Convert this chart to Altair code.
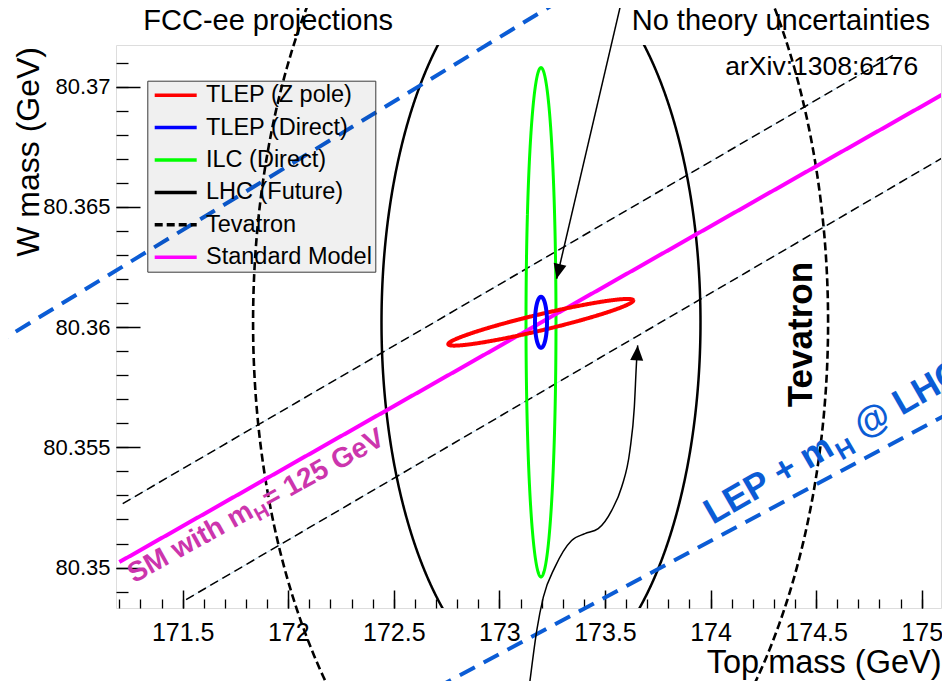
import numpy as np
import pandas as pd
import altair as alt

FONT = "Liberation Sans"

# ---------------- axes ----------------
X_DOMAIN = [171.1841, 175.0915]
Y_DOMAIN = [80.34832, 80.37173]
X_MAJOR = [171.5, 172.0, 172.5, 173.0, 173.5, 174.0, 174.5, 175.0]
X_MINOR = [171.2, 171.3, 171.4, 171.5, 171.6, 171.7, 171.8, 171.9, 172.0, 172.1,
           172.2, 172.3, 172.4, 172.5, 172.6, 172.7, 172.8, 172.9, 173.0, 173.1,
           173.2, 173.3, 173.4, 173.5, 173.6, 173.7, 173.8, 173.9, 174.0, 174.1,
           174.2, 174.3, 174.4, 174.5, 174.6, 174.7, 174.8, 174.9, 175.0]
Y_MAJOR = [80.35, 80.355, 80.36, 80.365, 80.37]
Y_MINOR = [80.349, 80.350, 80.351, 80.352, 80.353, 80.354, 80.355, 80.356, 80.357,
           80.358, 80.359, 80.360, 80.361, 80.362, 80.363, 80.364, 80.365, 80.366,
           80.367, 80.368, 80.369, 80.370, 80.371]

# ---------------- legend series ----------------
SERIES = ["TLEP (Z pole)", "TLEP (Direct)", "ILC (Direct)", "LHC (Future)", "Tevatron", "Standard Model"]
COLORS = ["#ff0000", "#0000ff", "#00ff00", "#000000", "#000000", "#ff00ff"]
DASHES = [[1, 0], [1, 0], [1, 0], [1, 0], [8, 4], [1, 0]]

# ---------------- contours (centre, semi-axis vectors) ----------------
ELL_NAMES = ["TLEP (Z pole)", "TLEP (Direct)", "ILC (Direct)", "LHC (Future)", "Tevatron"]
ELL_CX = [173.196, 173.197, 173.197, 173.197, 173.195]
ELL_CY = [80.3602, 80.3602, 80.3602, 80.3602, 80.3602]
ELL_AX = [0.4381, 0.0284, 0.0710, 0.7554, 1.3617]
ELL_AY = [0.000915, 0.0, 0.0, 0.0, 0.0]
ELL_BX = [-0.00876, 0.0, 0.0, 0.0, 0.0]
ELL_BY = [0.000324, 0.00106, 0.01059, 0.01511, 0.02250]
ELL_WIDTH = [4, 4, 3, 2.5, 2.6]

# ---------------- lines ----------------
SM_X = [171.20, 175.10]
SM_Y = [80.35023, 80.36968]
TEV_BAND_X = [[171.216, 174.864], [171.516, 175.118]]
TEV_BAND_Y = [[80.35266, 80.37130], [80.34867, 80.36714]]
LEP_X = [[170.60, 173.35], [172.70, 175.16]]
LEP_Y = [[80.35923, 80.37392], [80.34499, 80.35656]]

ARROW1_X = [173.579, 173.271]
ARROW1_Y = [80.37358, 80.36201]
ARROW2_X = [173.133, 173.145, 173.177, 173.208, 173.263, 173.342, 173.405, 173.468,
            173.532, 173.579, 173.618, 173.639, 173.650, 173.655]
ARROW2_Y = [80.34448, 80.34531, 80.34739, 80.34877, 80.35002, 80.35113, 80.35141, 80.35162,
            80.35238, 80.35335, 80.35487, 80.35667, 80.35862, 80.35924]
HEAD_X = [173.271, 173.655]
HEAD_Y = [80.36201, 80.35924]
HEAD_ANGLE = [193.1, 3.8]

BLUE = "#0b5cd5"
SMTXT = "#cc35ad"

XS = alt.Scale(domain=X_DOMAIN, nice=False, zero=False)
YS = alt.Scale(domain=Y_DOMAIN, nice=False, zero=False)


def X(axis=None):
    return alt.X("x:Q", scale=XS, axis=axis)


def Y(axis=None):
    return alt.Y("y:Q", scale=YS, axis=axis)


LEG = alt.Legend(orient="none", legendX=31.3, legendY=35.7, title=None,
                 fillColor="rgba(0,0,0,0.059)", strokeColor="#3a3a3a", padding=2.5,
                 symbolType="M-2.1,0L2.1,0", symbolSize=400, symbolStrokeWidth=3.5,
                 symbolOffset=13.9, labelOffset=18.3, rowPadding=8.4,
                 labelFont=FONT, labelFontSize=23.5, labelColor="black", labelLimit=0,
                 labelExpr="datum.label + '\u00a0\u00a0\u00a0\u00a0\u2009'")
COLOR = alt.Color("series:N", scale=alt.Scale(domain=SERIES, range=COLORS), legend=LEG)
DASH = alt.StrokeDash("series:N", scale=alt.Scale(domain=SERIES, range=DASHES), legend=LEG)

x_major = alt.Axis(orient="bottom", values=X_MAJOR, format=".1~f", offset=-18, tickSize=18,
                   tickWidth=1.5, tickColor="black", domain=False, grid=False,
                   labelFont=FONT, labelFontSize=25, labelColor="black", labelPadding=12,
                   labelFlush=False, labelOverlap=False,
                   title="Top mass (GeV)", titleFont=FONT, titleFontSize=32.5,
                   titleFontWeight="normal", titleColor="black", titleAlign="right",
                   titleBaseline="alphabetic", titleX=825, titleY=82)
y_major = alt.Axis(orient="left", values=Y_MAJOR, format=".3~f", offset=-24, tickSize=24,
                   tickWidth=1.5, tickColor="black", domain=False, grid=False,
                   labelFont=FONT, labelFontSize=22, labelColor="black", labelPadding=6,
                   labelFlush=False, labelOverlap=False,
                   title="W mass (GeV)", titleFont=FONT, titleFontSize=32,
                   titleFontWeight="normal", titleColor="black", titleAngle=270,
                   titleAlign="right", titleBaseline="alphabetic", titleX=-101.7, titleY=1.5)
x_minor = alt.Axis(orient="bottom", values=X_MINOR, offset=-9, tickSize=9, tickWidth=1.3,
                   tickColor="black", domain=False, grid=False, labels=False, title=None)
y_minor = alt.Axis(orient="left", values=Y_MINOR, offset=-12, tickSize=12, tickWidth=1.3,
                   tickColor="black", domain=False, grid=False, labels=False, title=None)

t = np.linspace(0.0, 2.0 * np.pi, 361)


def ellipse_df(i):
    x = ELL_CX[i] + ELL_AX[i] * np.cos(t) + ELL_BX[i] * np.sin(t)
    y = ELL_CY[i] + ELL_AY[i] * np.cos(t) + ELL_BY[i] * np.sin(t)
    return pd.DataFrame({"series": ELL_NAMES[i], "x": x, "y": y, "k": np.arange(len(t))})


def ellipse_layer(i, clip):
    return alt.Chart(ellipse_df(i)).mark_line(strokeWidth=ELL_WIDTH[i], clip=clip).encode(
        x=X(), y=Y(), order=alt.Order("k:Q"), color=COLOR, strokeDash=DASH)


def seg_df(xs, ys):
    rows = []
    for s, (xx, yy) in enumerate(zip(xs, ys)):
        for k, (a, b) in enumerate(zip(xx, yy)):
            rows.append({"s": s, "k": k, "x": a, "y": b})
    return pd.DataFrame(rows)


layers = []

band = seg_df(TEV_BAND_X, TEV_BAND_Y)
layers.append(alt.Chart(band).mark_line(color="#c4e2f4", strokeWidth=1.0, clip=True).encode(
    x=X(), y=Y(), detail="s:N", order="k:Q"))
layers.append(alt.Chart(band).mark_line(color="black", strokeWidth=1.5, strokeDash=[9, 5], clip=True).encode(
    x=X(), y=Y(), detail="s:N", order="k:Q"))

layers.append(ellipse_layer(3, True))    # LHC
layers.append(ellipse_layer(4, False))   # Tevatron
layers.append(ellipse_layer(2, True))    # ILC

sm_df = pd.DataFrame({"series": "Standard Model", "x": SM_X, "y": SM_Y, "k": [0, 1]})
layers.append(alt.Chart(sm_df).mark_line(strokeWidth=4, clip=True).encode(
    x=X(x_major), y=Y(y_major), order=alt.Order("k:Q"), color=COLOR, strokeDash=DASH))

layers.append(ellipse_layer(0, True))    # TLEP Z pole
layers.append(ellipse_layer(1, True))    # TLEP direct

lep = seg_df(LEP_X, LEP_Y)
layers.append(alt.Chart(lep).mark_line(color=BLUE, strokeWidth=4, strokeDash=[17, 10], clip=False).encode(
    x=X(), y=Y(), detail="s:N", order="k:Q"))

arr = seg_df([ARROW1_X, ARROW2_X], [ARROW1_Y, ARROW2_Y])
layers.append(alt.Chart(arr).mark_line(color="black", strokeWidth=1.5, interpolate="monotone", clip=False).encode(
    x=X(), y=Y(), detail="s:N", order="k:Q"))

ARROW_SHAPE = "M0,0L-0.65,1.5L0.65,1.5Z"
for hx, hy, ha in zip(HEAD_X, HEAD_Y, HEAD_ANGLE):
    layers.append(alt.Chart(pd.DataFrame({"x": [hx], "y": [hy]})).mark_point(
        shape=ARROW_SHAPE, size=400, filled=True, color="black", opacity=1, strokeWidth=0,
        angle=ha, clip=False).encode(x=X(), y=Y()))


def label(text, x, y, size, color="black", weight="normal", angle=0, align="left", dx=0, dy=0):
    df = pd.DataFrame({"x": [x], "y": [y], "t": [text]})
    return alt.Chart(df).mark_text(font=FONT, fontSize=size, color=color, fontWeight=weight,
                                   angle=angle, align=align, baseline="alphabetic",
                                   dx=dx, dy=dy, clip=False).encode(x=X(), y=Y(), text="t:N")


layers.append(label("FCC-ee projections", 171.3134, 80.37237, 29))
layers.append(label("No theory uncertainties", 173.6266, 80.37237, 29))
layers.append(label("arXiv:1308:6176", 174.984, 80.37047, 26.5, align="right"))
layers.append(label("Tevatron", 174.479, 80.35667, 35, weight="bold", angle=270))

# SM with m_H = 125 GeV
SMX, SMY = 171.2693, 80.34934
layers.append(label("SM with m", SMX, SMY, 28, SMTXT, "bold", 331))
layers.append(label("H", SMX, SMY, 19.5, SMTXT, "bold", 331, dx=139, dy=6.5))
layers.append(label("= 125 GeV", SMX, SMY, 28, SMTXT, "bold", 331, dx=154))

# LEP + m_H @ LHC
LX, LY = 174.010, 80.35177
layers.append(label("LEP + m", LX, LY, 36, BLUE, "bold", 330))
layers.append(label("H", LX, LY, 25, BLUE, "bold", 330, dx=144, dy=9))
layers.append(label("@ LHC", LX, LY, 36, BLUE, "bold", 330, dx=173))

# minor ticks
corner = pd.DataFrame({"x": [X_DOMAIN[0]], "y": [Y_DOMAIN[0]]})
layers.append(alt.Chart(corner).mark_point(opacity=0).encode(x=X(x_minor), y=Y(y_minor)))

chart = alt.layer(*layers).resolve_axis(x="independent", y="independent").properties(
    width=825, height=563,
    padding={"left": 108, "top": 37, "right": 1, "bottom": 73},
    autosize=alt.AutoSizeParams(type="none"),
).configure_view(stroke="black", strokeWidth=1.6).configure(background="white")

chart.save("out.html", embed_options={"renderer": "svg", "actions": False})
